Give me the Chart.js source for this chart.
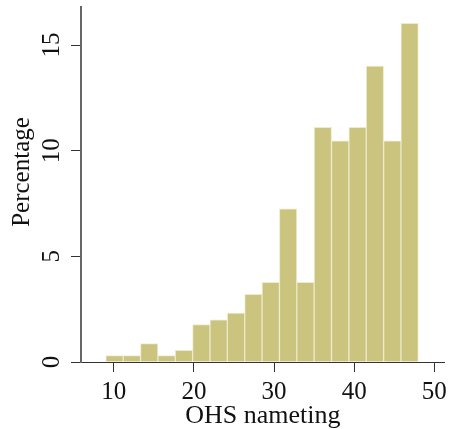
<!DOCTYPE html>
<html lang="en">
<head>
  <meta charset="UTF-8">
  <title>OHS nameting</title>
  <script src="https://cdn.jsdelivr.net/npm/chart.js"></script>
  <style>
    body { margin: 0; background: #fff; }
    .wrap { width: 452px; height: 429px; }
  </style>
</head>
<body>
<div class="wrap"><canvas id="hist"></canvas></div>

<script>
  // histogram bins: 18 bins from 9 to 48
  const binStart = 9;
  const binWidth = 39 / 18;
  const percentages = [0.30, 0.30, 0.87, 0.30, 0.55, 1.77, 2.00, 2.32, 3.20, 3.77,
                       7.25, 3.77, 11.10, 10.47, 11.10, 14.00, 10.47, 16.03];
  const xTicks = [10, 20, 30, 40, 50];
  const yTicks = [0, 5, 10, 15];
  const xTitle = 'OHS nameting';
  const yTitle = 'Percentage';

  const serif = '"Liberation Serif", "DejaVu Serif", serif';

  const points = percentages.map((p, i) => ({ x: binStart + binWidth * (i + 0.5), y: p }));

  // y labels are drawn rotated, like the stata output
  const rotatedY = {
    id: 'rotatedY',
    afterDraw(chart) {
      const sc = chart.scales.y;
      const ctx = chart.ctx;
      ctx.save();
      ctx.fillStyle = '#111';
      ctx.font = '25px ' + serif;
      ctx.textAlign = 'center';
      ctx.textBaseline = 'middle';
      yTicks.forEach(v => {
        ctx.save();
        ctx.translate(52, sc.getPixelForValue(v));
        ctx.rotate(-Math.PI / 2);
        ctx.fillText(String(v), 0, 0);
        ctx.restore();
      });
      ctx.translate(29, 172);
      ctx.rotate(-Math.PI / 2);
      ctx.textBaseline = 'alphabetic';
      ctx.fillText(yTitle, 0, 0);
      ctx.restore();
    }
  };

  new Chart(document.getElementById('hist').getContext('2d'), {
    type: 'bar',
    data: {
      datasets: [{
        data: points,
        backgroundColor: '#cac47e',
        borderColor: 'rgba(236,232,196,0.9)',
        borderWidth: 1,
        barPercentage: 1,
        categoryPercentage: 1
      }]
    },
    options: {
      responsive: true,
      maintainAspectRatio: false,
      animation: false,
      layout: { padding: { top: 7, right: 5, bottom: 0, left: 0 } },
      plugins: { legend: { display: false }, tooltip: { enabled: false } },
      scales: {
        x: {
          type: 'linear',
          min: 5.906,
          max: 51.31,
          offset: false,
          afterFit: s => { s.height = 67; },
          afterBuildTicks: s => { s.ticks = xTicks.map(v => ({ value: v })); },
          grid: { offset: false, drawOnChartArea: false, drawTicks: true, tickLength: 10, color: '#333' },
          border: { display: true, color: '#333', width: 1 },
          ticks: {
            color: '#111',
            padding: 5,
            maxRotation: 0,
            font: { family: serif, size: 25 }
          },
          title: {
            display: true,
            text: xTitle,
            color: '#111',
            padding: 0,
            font: { family: serif, size: 26, lineHeight: 1 }
          }
        },
        y: {
          min: 0,
          max: 16.8,
          afterFit: s => { s.width = 81; },
          afterBuildTicks: s => { s.ticks = yTicks.map(v => ({ value: v })); },
          grid: { drawOnChartArea: false, drawTicks: true, tickLength: 10, color: '#333' },
          border: { display: true, color: '#666', width: 2 },
          ticks: { display: false }
        }
      }
    },
    plugins: [rotatedY]
  });
</script>
</body>
</html>
